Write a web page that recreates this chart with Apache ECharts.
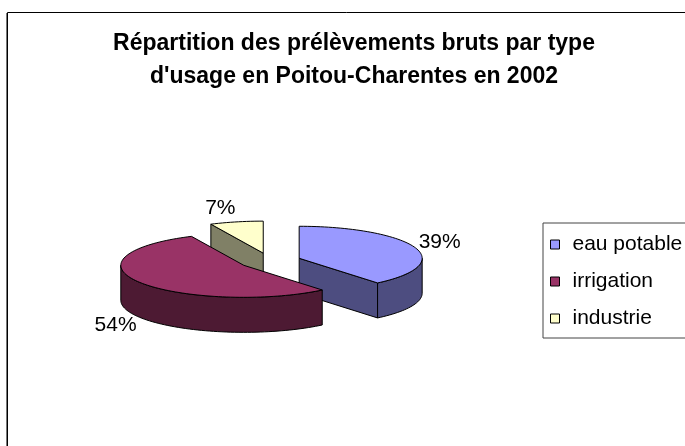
<!DOCTYPE html>
<html><head><meta charset="utf-8">
<script src="https://cdn.jsdelivr.net/npm/echarts@6/dist/echarts.min.js"></script>
<style>html,body{margin:0;padding:0;background:#fff}#c{width:685px;height:446px}</style>
</head><body><div id="c"></div>
<script>
const titleLines = ['Répartition des prélèvements bruts par type', "d'usage en Poitou-Charentes en 2002"];
const categories = ['eau potable', 'irrigation', 'industrie'];
const values = [39, 54, 7];
const topColors = ['#9999FF', '#993366', '#FFFFCC'];
const sideColors = ['#4D4D80', '#4D1A33', '#808066'];

const FONT = "'Liberation Sans', Arial, sans-serif";
const geo = {cx: 270, cy: 261, rx: 123, ry: 32, depth: 35, explode: 31};
const total = values.reduce((a, b) => a + b, 0);
const slices = (() => {
  let acc = 0;
  const k = geo.ry / geo.rx;
  return values.map((v) => {
    const s = acc / total * 2 * Math.PI; acc += v;
    const e = acc / total * 2 * Math.PI;
    const m = (s + e) / 2;
    return {s, e, m, ox: geo.cx + geo.explode * Math.sin(m), oy: geo.cy - geo.explode * Math.cos(m) * k};
  });
})();
function rim(sl, t, dy) { return [sl.ox + geo.rx * Math.sin(t), sl.oy - geo.ry * Math.cos(t) + dy]; }
function arc(sl, a, b, dy) {
  const n = Math.max(2, Math.ceil((b - a) / (Math.PI / 90)));
  const pts = [];
  for (let j = 0; j <= n; j++) pts.push(rim(sl, a + (b - a) * j / n, dy));
  return pts;
}
function makeRender(i) {
  return function (params, api) {
    const sl = slices[i];
    const D = geo.depth;
    const children = [];
    const st = {stroke: '#000', lineWidth: 1};
    const faces = [];
    if (Math.sin(sl.s) < -1e-6) faces.push(sl.s);
    if (Math.sin(sl.e) > 1e-6) faces.push(sl.e);
    faces.forEach(t => {
      const p = rim(sl, t, 0); const c = [sl.ox, sl.oy];
      children.push({type: 'polygon', shape: {points: [c, p, [p[0], p[1] + D], [c[0], c[1] + D]]}, style: Object.assign({fill: sideColors[i]}, st)});
    });
    const a = Math.max(sl.s, Math.PI / 2), b = Math.min(sl.e, 3 * Math.PI / 2);
    if (b > a) {
      const top = arc(sl, a, b, 0); const bot = arc(sl, a, b, D).reverse();
      children.push({type: 'polygon', shape: {points: top.concat(bot)}, style: Object.assign({fill: sideColors[i]}, st)});
    }
    children.push({type: 'polygon', shape: {points: [[sl.ox, sl.oy]].concat(arc(sl, sl.s, sl.e, 0))}, style: Object.assign({fill: topColors[i]}, st)});
    const sg = Math.sin(sl.m);
    const lx = sl.ox + (geo.rx + 4) * sg;
    const ly = sl.oy - (geo.ry + 14) * Math.cos(sl.m) + (Math.cos(sl.m) < 0 ? D : 0);
    const al = sg >= 0 ? 'left' : 'right';
    children.push({type: 'text', x: lx, y: ly, style: {text: Math.round(api.value(0) / total * 100) + '%', fill: '#000', font: '21px ' + FONT, align: al, textAlign: al, verticalAlign: 'middle', textVerticalAlign: 'middle'}});
    return {type: 'group', children};
  };
}
const order = slices.map((s, i) => i).sort((a, b) => slices[a].oy - slices[b].oy);
const chart = echarts.init(document.getElementById('c'), null, {renderer: 'canvas'});
chart.setOption({
  animation: false,
  backgroundColor: '#fff',
  title: {text: titleLines.join('\n'), left: 354, top: 27, textAlign: 'center', padding: 0,
    textStyle: {fontFamily: FONT, fontSize: 23, fontWeight: 'bold', lineHeight: 33, color: '#000'}},
  legend: {orient: 'vertical', left: 543, top: 223, data: categories, icon: 'rect', itemWidth: 9, itemHeight: 9, itemGap: 16,
    borderColor: '#444', borderWidth: 1, padding: [11, 30, 9, 7], selectedMode: false,
    itemStyle: {borderColor: '#000', borderWidth: 1},
    textStyle: {fontFamily: FONT, fontSize: 21, color: '#000', lineHeight: 21, padding: [0, 0, 0, 8]}},
  graphic: [
    {type: 'rect', shape: {x: 7.5, y: 12.5, width: 720, height: 480}, style: {fill: 'none', stroke: '#000', lineWidth: 1}, silent: true, z: -1},
    {type: 'line', shape: {x1: 6.5, y1: 13, x2: 6.5, y2: 446}, style: {stroke: '#777', lineWidth: 1}, silent: true, z: -1}
  ],
  series: categories.map((name, i) => ({
    type: 'custom', name, coordinateSystem: 'none', renderItem: makeRender(i),
    data: [[values[i]]], itemStyle: {color: topColors[i]}, z: 2 + order.indexOf(i), silent: true
  }))
});
</script></body></html>
